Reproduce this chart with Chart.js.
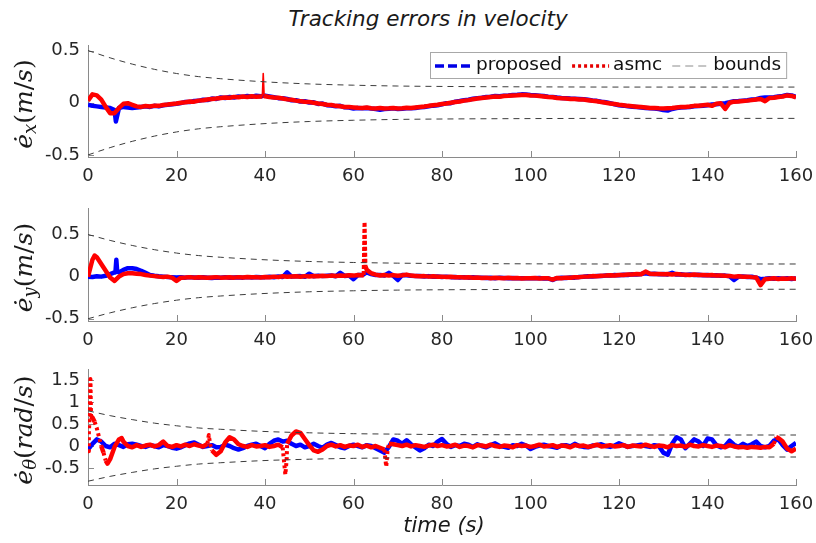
<!DOCTYPE html>
<html>
<head>
<meta charset="utf-8">
<script src="https://cdn.jsdelivr.net/npm/chart.js@4.4.0/dist/chart.umd.min.js"></script>
<style>
  body { margin: 0; background: #fff; width: 816px; height: 543px; overflow: hidden; position: relative; font-family: "DejaVu Sans", sans-serif; }
  #title { position: absolute; left: 0; width: 856px; top: 6px; text-align: center; font-style: italic; font-size: 21.5px; line-height: 26px; color: #1a1a1a; }
  #xlabel { position: absolute; left: 0; width: 888px; top: 512px; text-align: center; font-style: italic; font-size: 21px; line-height: 26px; color: #1a1a1a; }
  .panel { position: absolute; left: 0; width: 816px; }
</style>
</head>
<body>
<div id="title">Tracking errors in velocity</div>
<div class="panel" style="top:35px;height:157px"><canvas id="cx" width="816" height="157"></canvas></div>
<div class="panel" style="top:198px;height:158px"><canvas id="cy" width="816" height="158"></canvas></div>
<div class="panel" style="top:359px;height:161px"><canvas id="cth" width="816" height="161"></canvas></div>
<div id="xlabel">time (s)</div>
<script>
// sample times (s), one per second
const t = Array.from({ length: 161 }, (_, i) => i);
const xTicks = [0, 20, 40, 60, 80, 100, 120, 140, 160];
const yTicksV = [-0.5, 0, 0.5];
const yTicksW = [-0.5, 0, 0.5, 1, 1.5];

// x velocity error
const exProp = [
  -0.02, -0.03, -0.035, -0.04, -0.045, -0.05, -0.07, -0.05, -0.04, -0.045, -0.05, -0.045, -0.04, -0.035, -0.04, -0.03, -0.035, -0.025, -0.02, -0.015,
  -0.01, -0.004, 0.008, 0.006, 0.016, 0.018, 0.028, 0.026, 0.04, 0.036, 0.05, 0.046, 0.054, 0.05, 0.06, 0.056, 0.064, 0.058, 0.066, 0.062,
  0.068, 0.06, 0.052, 0.044, 0.044, 0.036, 0.024, 0.024, 0.012, 0.014, 0.002, 0.004, -0.012, -0.008, -0.024, -0.026, -0.034, -0.03, -0.044, -0.046,
  -0.055, -0.05, -0.054, -0.05, -0.056, -0.06, -0.068, -0.06, -0.058, -0.054, -0.06, -0.058, -0.052, -0.054, -0.05, -0.044, -0.04, -0.034, -0.028, -0.024,
  -0.016, -0.004, -0.004, 0.01, 0.016, 0.024, 0.028, 0.038, 0.044, 0.048, 0.054, 0.058, 0.064, 0.062, 0.068, 0.07, 0.074, 0.076, 0.08, 0.078,
  0.074, 0.072, 0.068, 0.064, 0.058, 0.056, 0.05, 0.046, 0.044, 0.04, 0.038, 0.036, 0.034, 0.028, 0.022, 0.018, 0.01, 0.004, -0.004, -0.016,
  -0.024, -0.028, -0.034, -0.038, -0.042, -0.046, -0.05, -0.054, -0.056, -0.06, -0.07, -0.075, -0.06, -0.05, -0.046, -0.044, -0.04, -0.034, -0.032, -0.028,
  -0.024, -0.018, -0.014, -0.01, -0.004, 0.004, 0.014, 0.016, 0.02, 0.024, 0.03, 0.034, 0.045, 0.05, 0.05, 0.052, 0.06, 0.064, 0.074, 0.07,
  0.055
];
const exPropExtra = [[6.3, -0.18]];
const exAsmc = [
  0.02, 0.08, 0.07, 0.03, -0.04, -0.1, -0.1, -0.05, -0.01, -0.005, -0.02, -0.035, -0.04, -0.032, -0.036, -0.028, -0.03, -0.022, -0.018, -0.012,
  -0.008, 0.0, 0.004, 0.012, 0.01, 0.02, 0.024, 0.03, 0.036, 0.04, 0.046, 0.05, 0.048, 0.056, 0.052, 0.06, 0.055, 0.062, 0.058, 0.06,
  0.062, 0.055, 0.05, 0.048, 0.04, 0.032, 0.028, 0.02, 0.015, 0.01, 0.006, 0.0, -0.008, -0.012, -0.02, -0.022, -0.03, -0.034, -0.04, -0.042,
  -0.045, -0.048, -0.05, -0.046, -0.052, -0.055, -0.05, -0.056, -0.054, -0.05, -0.055, -0.052, -0.048, -0.05, -0.045, -0.04, -0.036, -0.03, -0.025, -0.02,
  -0.012, -0.008, 0.0, 0.006, 0.012, 0.02, 0.025, 0.034, 0.04, 0.045, 0.05, 0.055, 0.06, 0.058, 0.064, 0.066, 0.07, 0.072, 0.075, 0.074,
  0.07, 0.068, 0.064, 0.06, 0.055, 0.052, 0.046, 0.042, 0.04, 0.036, 0.035, 0.032, 0.03, 0.024, 0.018, 0.014, 0.006, 0.0, -0.008, -0.012,
  -0.02, -0.024, -0.03, -0.034, -0.038, -0.042, -0.046, -0.05, -0.05, -0.054, -0.055, -0.052, -0.05, -0.046, -0.042, -0.04, -0.036, -0.03, -0.028, -0.024,
  -0.02, -0.03, -0.01, -0.006, -0.06, 0.0, 0.01, 0.012, 0.016, 0.02, 0.025, 0.03, 0.035, 0.015, 0.045, 0.048, 0.055, 0.06, 0.07, 0.065,
  0.05
];
const exAsmcExtra = [[39.4, 0.06], [39.6, 0.28], [39.8, 0.07]];

// y velocity error
const eyProp = [
  0.0, -0.005, 0.005, 0.0, 0.01, 0.03, 0.05, 0.05, 0.08, 0.1, 0.1, 0.09, 0.07, 0.045, 0.02, 0.01, 0.004, 0.0, -0.004, -0.006,
  -0.01, -0.008, -0.012, -0.006, -0.01, -0.014, -0.008, -0.012, -0.016, -0.01, -0.012, -0.006, -0.014, -0.01, -0.008, -0.012, -0.006, -0.01, -0.004, -0.008,
  -0.006, -0.002, -0.008, 0.002, -0.004, 0.05, 0.0, 0.004, 0.006, -0.002, 0.035, 0.004, 0.012, 0.006, 0.01, 0.014, 0.004, 0.045, 0.008, 0.012,
  -0.03, 0.018, 0.02, 0.05, 0.03, 0.018, 0.02, 0.014, 0.045, 0.01, -0.04, 0.02, 0.016, 0.01, 0.006, 0.008, 0.002, 0.006, -0.002, 0.002,
  -0.004, 0.0, -0.006, -0.004, -0.01, -0.006, -0.012, -0.008, -0.014, -0.012, -0.016, -0.014, -0.018, -0.012, -0.016, -0.02, -0.016, -0.02, -0.018, -0.02,
  -0.018, -0.02, -0.016, -0.022, -0.02, -0.04, -0.018, -0.014, -0.016, -0.01, -0.012, -0.004, -0.002, 0.004, 0.002, 0.008, 0.006, 0.014, 0.012, 0.018,
  0.016, 0.022, 0.02, 0.028, 0.026, 0.032, 0.04, 0.03, 0.034, 0.028, 0.032, 0.026, 0.045, 0.024, 0.028, 0.02, 0.024, 0.018, 0.022, 0.016,
  0.02, 0.014, 0.016, 0.01, 0.012, 0.004, -0.04, 0.0, 0.002, -0.004, -0.002, -0.012, -0.03, -0.026, -0.02, -0.026, -0.018, -0.024, -0.02, -0.028,
  -0.02
];
const eyPropExtra = [[6.2, 0.05], [6.4, 0.2], [6.6, 0.06]];
const eyAsmc = [
  0.0, 0.2, 0.23, 0.15, 0.07, -0.01, -0.05, 0.0, 0.03, 0.04, 0.04, 0.035, 0.03, 0.02, 0.012, 0.006, 0.0, -0.004, 0.0, -0.012,
  -0.05, -0.012, -0.01, -0.006, -0.012, -0.008, -0.01, -0.014, -0.01, -0.006, -0.012, -0.01, -0.008, -0.012, -0.006, -0.01, -0.004, -0.008, -0.006, -0.01,
  -0.004, -0.008, 0.0, -0.006, 0.004, -0.002, 0.002, 0.004, -0.002, 0.006, 0.002, 0.008, 0.004, 0.01, 0.006, 0.012, 0.008, 0.014, 0.01, 0.016,
  0.012, 0.02, 0.015, 0.08, 0.04, 0.024, 0.014, 0.02, 0.012, 0.018, 0.01, 0.016, 0.024, 0.012, 0.008, 0.004, 0.006, 0.0, 0.004, -0.002,
  0.0, -0.004, -0.002, -0.008, -0.006, -0.01, -0.008, -0.012, -0.01, -0.016, -0.012, -0.018, -0.014, -0.016, -0.02, -0.014, -0.018, -0.016, -0.022, -0.018,
  -0.02, -0.016, -0.022, -0.018, -0.02, -0.035, -0.016, -0.018, -0.012, -0.014, -0.008, -0.006, 0.0, 0.002, 0.006, 0.004, 0.01, 0.012, 0.016, 0.014,
  0.02, 0.018, 0.024, 0.026, 0.03, 0.028, 0.06, 0.034, 0.03, 0.032, 0.028, 0.03, 0.026, 0.03, 0.024, 0.022, 0.02, 0.024, 0.018, 0.02,
  0.016, 0.018, 0.012, 0.014, 0.01, 0.008, 0.0, 0.004, -0.002, 0.0, -0.006, -0.01, -0.1, -0.03, -0.024, -0.02, -0.028, -0.022, -0.026, -0.02,
  -0.024
];
const eyAsmcExtra = [[1.5, 0.25], [62.3, 0.02], [62.5, 0.65], [62.7, 0.12]];

// angular velocity error
const ethProp = [
  -0.08, 0.05, 0.15, 0.1, 0.0, -0.03, 0.05, 0.02, -0.02, 0.04, 0.05, 0.03, 0.0, -0.02, 0.02, 0.0, -0.03, 0.02, 0.0, -0.04,
  -0.06, -0.03, 0.02, 0.06, 0.08, 0.03, -0.02, 0.0, 0.02, -0.03, -0.02, 0.03, 0.0, -0.05, -0.08, -0.05, 0.0, 0.03, 0.05, 0.0,
  -0.05, 0.05, 0.12, 0.15, 0.1, 0.12, 0.05, 0.0, 0.03, -0.03, 0.0, 0.05, 0.0, -0.04, 0.03, 0.07, 0.02, -0.03, -0.05, 0.0,
  0.03, 0.0, -0.03, 0.02, 0.0, -0.05, -0.1, -0.15, -0.02, 0.15, 0.12, 0.05, 0.13, 0.04, -0.03, -0.1, -0.05, 0.03, 0.0, 0.1,
  0.16, 0.05, -0.02, 0.02, 0.0, 0.05, 0.03, -0.02, 0.04, 0.0, -0.03, 0.02, 0.06, 0.0, -0.02, -0.04, 0.02, 0.0, 0.05, 0.01,
  -0.07, -0.02, 0.01, 0.03, 0.0, -0.02, -0.04, 0.01, 0.02, -0.01, 0.05, 0.0, -0.02, -0.03, 0.01, 0.02, 0.04, 0.0, -0.02, 0.01,
  0.06, 0.02, -0.02, 0.0, 0.01, 0.03, 0.0, -0.02, 0.02, 0.0, -0.15, -0.2, 0.05, 0.2, 0.15, -0.05, 0.05, 0.15, 0.1, 0.0,
  0.17, 0.15, 0.02, -0.03, 0.0, 0.12, 0.03, -0.02, 0.05, 0.0, 0.04, 0.1, 0.0, -0.03, 0.0, 0.12, 0.15, 0.02, -0.08, 0.0,
  0.07
];
const ethPropExtra = [];
const ethAsmc = [
  -0.12, 0.65, 0.4, 0.0, -0.33, -0.3, -0.02, 0.15, 0.1, 0.0, -0.03, 0.02, -0.02, 0.01, 0.03, -0.01, 0.02, 0.1, 0.0, -0.02,
  0.02, -0.01, 0.03, 0.0, 0.04, 0.01, -0.01, 0.05, -0.1, -0.2, -0.12, 0.08, 0.2, 0.15, 0.04, 0.0, -0.02, 0.02, -0.01, 0.0,
  0.02, -0.02, 0.0, 0.03, -0.03, 0.05, 0.24, 0.33, 0.3, 0.16, 0.02, -0.1, -0.13, -0.08, 0.0, 0.03, -0.01, 0.02, -0.02, 0.01,
  0.0, 0.03, -0.02, 0.01, -0.03, 0.0, -0.04, -0.08, 0.05, 0.04, 0.02, 0.0, 0.03, -0.01, 0.02, 0.0, -0.02, 0.01, 0.03, 0.0,
  0.02, -0.01, 0.0, 0.03, -0.02, 0.01, 0.0, -0.03, 0.02, 0.01, -0.01, 0.03, 0.0, -0.02, 0.01, 0.0, -0.03, 0.02, 0.0, 0.01,
  -0.02, 0.0, 0.03, -0.01, 0.0, 0.02, -0.02, 0.01, 0.0, -0.03, 0.02, 0.0, 0.01, -0.02, 0.0, 0.03, -0.01, 0.0, 0.02, -0.01,
  0.0, 0.02, -0.02, 0.01, 0.0, -0.01, 0.03, 0.0, -0.02, 0.01, 0.0, -0.03, 0.02, 0.0, 0.01, -0.02, 0.03, 0.0, -0.01, 0.02,
  0.0, -0.02, 0.01, 0.0, -0.03, 0.02, -0.01, -0.03, -0.02, -0.04, -0.02, -0.03, -0.04, -0.02, -0.03, 0.05, 0.18, 0.1, -0.06, -0.12,
  -0.06
];
const ethAsmcExtra = [
  [0.2, 0.3], [0.4, 0.75], [0.55, 1.52], [0.7, 0.6], [1.5, 0.55], [2.5, 0.2], [3.5, -0.15], [4.4, -0.4], [7.6, 0.18],
  [27.3, 0.25], [27.6, 0.04], [44.3, -0.35], [44.6, -0.65], [44.9, -0.3],
  [67.2, -0.3], [67.4, -0.47], [67.7, -0.1], [155.5, 0.2]
];

// convergence bounds
const boundT = [0, 5, 10, 15, 20, 25, 30, 40, 50, 60, 70, 80, 100, 120, 140, 160];
const boundV = [0.5, 0.43, 0.37, 0.32, 0.28, 0.25, 0.23, 0.2, 0.18, 0.168, 0.16, 0.156, 0.152, 0.15, 0.15, 0.15];
const boundW = [0.8, 0.69, 0.6, 0.52, 0.46, 0.41, 0.38, 0.33, 0.3, 0.28, 0.27, 0.26, 0.255, 0.25, 0.25, 0.25];

function series(vals, extra) {
  const pts = vals.map((v, i) => ({ x: t[i], y: v }));
  extra.forEach(p => pts.push({ x: p[0], y: p[1] }));
  return pts.sort((a, b) => a.x - b.x);
}
function boundSeries(vals, sign) {
  return vals.map((v, i) => ({ x: boundT[i], y: sign * v }));
}

// draw ticks inside the axes (matlab style)
const innerTicks = {
  id: 'innerTicks',
  beforeDatasetsDraw(chart) {
    const { ctx, chartArea, scales } = chart;
    ctx.save();
    ctx.strokeStyle = '#8a8a8a';
    ctx.lineWidth = 1;
    ctx.beginPath();
    scales.x.ticks.forEach(tk => {
      const px = Math.round(scales.x.getPixelForValue(tk.value)) + 0.5;
      ctx.moveTo(px, chartArea.bottom);
      ctx.lineTo(px, chartArea.bottom - 6);
    });
    scales.y.ticks.forEach(tk => {
      const py = Math.round(scales.y.getPixelForValue(tk.value)) + 0.5;
      ctx.moveTo(chartArea.left, py);
      ctx.lineTo(chartArea.left + 6, py);
    });
    ctx.stroke();
    ctx.restore();
  }
};

// rotated y label with math-like parts
const mathYLabel = {
  id: 'mathYLabel',
  afterDraw(chart, args, opts) {
    if (!opts.parts) return;
    const { ctx, chartArea } = chart;
    ctx.save();
    let w = 0;
    opts.parts.forEach(p => { ctx.font = p.font; p.w = ctx.measureText(p.text).width; w += p.w; });
    ctx.translate(opts.x, (chartArea.top + chartArea.bottom) / 2 + 3);
    ctx.rotate(-Math.PI / 2);
    ctx.textBaseline = 'middle';
    ctx.fillStyle = '#1a1a1a';
    let x = -w / 2;
    opts.parts.forEach(p => { ctx.font = p.font; ctx.fillText(p.text, x, p.dy || 0); x += p.w; });
    ctx.restore();
  }
};

// legend box inside the first axes
const boxLegend = {
  id: 'boxLegend',
  afterDraw(chart, args, opts) {
    if (!opts.show) return;
    const { ctx, chartArea } = chart;
    const items = chart.data.datasets.filter(d => d.legend).map(d => d.legend);
    ctx.save();
    ctx.font = '18.5px "DejaVu Sans"';
    const lineLen = 37, pad = 5, gap = 4, sep = 10, h = 26;
    let w = pad;
    items.forEach((it, i) => { w += lineLen + gap + ctx.measureText(it.label).width + (i < items.length - 1 ? sep : pad); });
    const left = Math.round(chartArea.right - 10 - w), top = Math.round(chartArea.top + 7);
    ctx.fillStyle = '#fff';
    ctx.fillRect(left, top, w, h);
    ctx.strokeStyle = '#a8a8a8';
    ctx.lineWidth = 1;
    ctx.strokeRect(left + 0.5, top + 0.5, w, h);
    let x = left + pad;
    const cy = top + h / 2 + 1;
    items.forEach(it => {
      ctx.beginPath();
      ctx.setLineDash(it.dash);
      ctx.strokeStyle = it.color;
      ctx.lineWidth = it.width;
      ctx.moveTo(x, cy);
      ctx.lineTo(x + lineLen, cy);
      ctx.stroke();
      ctx.setLineDash([]);
      x += lineLen + gap;
      ctx.fillStyle = '#111';
      ctx.textBaseline = 'middle';
      ctx.fillText(it.label, x, cy - 1);
      x += ctx.measureText(it.label).width + sep;
    });
    ctx.restore();
  }
};

function label(sub, unit) {
  const it = 'italic 25px "DejaVu Serif"';
  const rm = '25px "DejaVu Serif"';
  const parts = [{ text: '\u0117', font: it }, { text: sub, font: 'italic 18px "DejaVu Serif"', dy: 6 }, { text: '(', font: rm }];
  unit.split('').forEach(c => parts.push({ text: c, font: c === '/' ? rm : it }));
  parts.push({ text: ')', font: rm });
  return parts;
}

function steepStyle(thr, dash, width) {
  const steep = c => Math.abs((c.p1.parsed.y - c.p0.parsed.y) / (c.p1.parsed.x - c.p0.parsed.x)) > thr;
  return {
    borderDash: c => steep(c) ? dash : undefined,
    borderWidth: c => steep(c) ? width : undefined
  };
}

function makeChart(id, cfg) {
  const tickFont = { family: '"DejaVu Sans"', size: 18 };
  const datasets = [
    { data: boundSeries(cfg.bound, 1), borderColor: '#3c3c3c', borderWidth: 1, borderDash: [6, 5], cubicInterpolationMode: 'monotone', order: 0,
      legend: { label: 'bounds', color: '#8c8c8c', dash: [8, 5], width: 1 } },
    { data: boundSeries(cfg.bound, -1), borderColor: '#3c3c3c', borderWidth: 1, borderDash: [6, 5], cubicInterpolationMode: 'monotone', order: 0 },
    { data: cfg.asmc, borderColor: '#ff0000', borderWidth: 4.5, segment: cfg.seg, order: 1,
      legend: { label: 'asmc', color: '#e60000', dash: [3, 3], width: 3.5 } },
    { data: cfg.prop, borderColor: '#0000ff', borderWidth: 4.5, order: 2,
      legend: { label: 'proposed', color: '#0000e6', dash: [9, 4], width: 3.5 } }
  ];
  // legend order follows plotting order: proposed, asmc, bounds
  datasets.sort((a, b) => b.order - a.order);
  return new Chart(document.getElementById(id), {
    type: 'line',
    data: { datasets },
    options: {
      responsive: false,
      animation: false,
      events: [],
      layout: { padding: { top: 10, right: 20, left: 0, bottom: 0 } },
      elements: { point: { radius: 0 }, line: { borderJoinStyle: 'round' } },
      plugins: {
        legend: { display: false },
        tooltip: { enabled: false },
        mathYLabel: { parts: cfg.label, x: 25 },
        boxLegend: { show: !!cfg.legend }
      },
      scales: {
        x: {
          type: 'linear', min: 0, max: 160,
          afterBuildTicks: s => { s.ticks = xTicks.map(v => ({ value: v })); },
          afterFit: s => { s.height = 35; s.paddingLeft = 0; s.paddingRight = 0; },
          ticks: { font: tickFont, color: '#262626', padding: 9, maxRotation: 0 },
          grid: { display: false, drawTicks: false },
          border: { color: '#8a8a8a', width: 1 }
        },
        y: {
          type: 'linear', min: cfg.min, max: cfg.max,
          afterBuildTicks: s => { s.ticks = cfg.yTicks.map(v => ({ value: v })); },
          afterFit: s => { s.width = 88; s.paddingTop = 0; s.paddingBottom = 0; },
          ticks: { font: tickFont, color: '#262626', padding: 8, callback: v => String(v) },
          grid: { display: false, drawTicks: false },
          border: { color: '#8a8a8a', width: 1 }
        }
      }
    },
    plugins: [innerTicks, mathYLabel, boxLegend]
  });
}

makeChart('cx', {
  prop: series(exProp, exPropExtra), asmc: series(exAsmc, exAsmcExtra), bound: boundV,
  min: -0.52, max: 0.553, yTicks: yTicksV, label: label('x', 'm/s'), legend: true,
  seg: steepStyle(0.8, undefined, 1.6)
});
makeChart('cy', {
  prop: series(eyProp, eyPropExtra), asmc: series(eyAsmc, eyAsmcExtra), bound: boundV,
  min: -0.527, max: 0.815, yTicks: yTicksV, label: label('y', 'm/s'),
  seg: steepStyle(0.5, [4, 2], 4)
});
makeChart('cth', {
  prop: series(ethProp, ethPropExtra), asmc: series(ethAsmc, ethAsmcExtra), bound: boundW,
  min: -0.886, max: 1.75, yTicks: yTicksW, label: label('\u03b8', 'rad/s'),
  seg: steepStyle(0.3, [3, 3], 4)
});
</script>
</body>
</html>
